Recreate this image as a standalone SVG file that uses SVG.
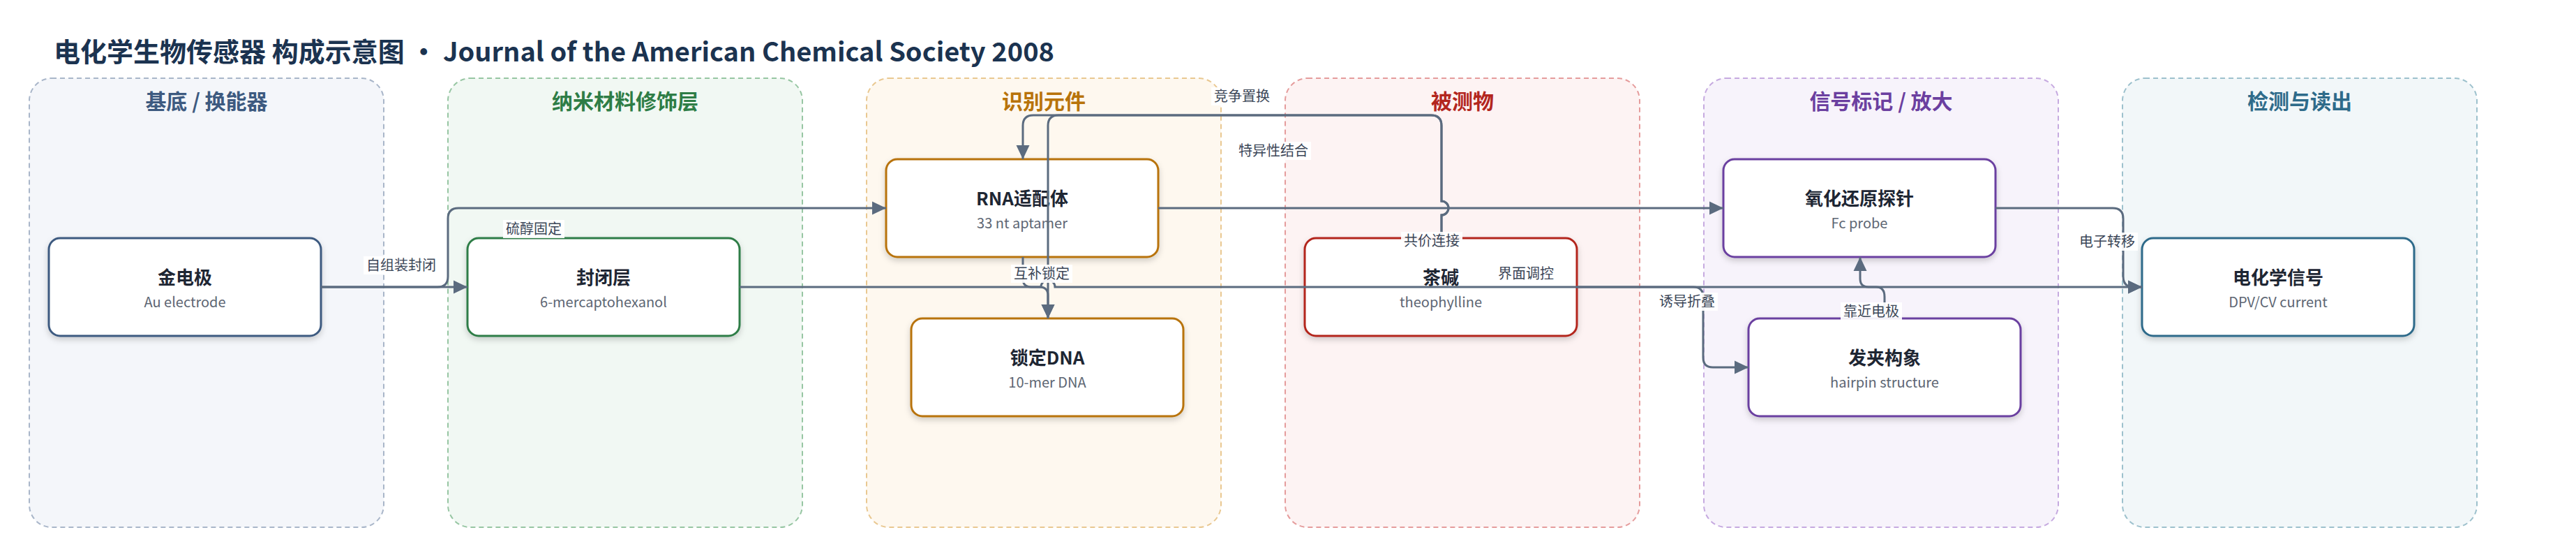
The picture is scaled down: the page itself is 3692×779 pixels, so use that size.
<svg xmlns="http://www.w3.org/2000/svg" width="3692" height="779" viewBox="0 0 3692 779">
<style>
text{font-family:"Noto Sans CJK SC","Noto Sans",sans-serif}
.title{font-size:38px;font-weight:700;fill:#1b3350}
.gl{font-size:30px;font-weight:700;text-anchor:middle}
.grp{stroke-width:2;stroke-dasharray:7 5}
.node{fill:#fff;stroke-width:3;filter:url(#sh)}
.nt{font-size:26px;font-weight:700;fill:#1e2633;text-anchor:middle}
.ns{font-size:20px;fill:#5d6673;text-anchor:middle}
.e{fill:none;stroke:#5b6b7f;stroke-width:3}
.lb{fill:#fff;fill-opacity:0.92}
.lt{font-size:20px;fill:#3b4657;text-anchor:middle}
</style>
<defs>
<filter id="sh" x="-10%" y="-10%" width="120%" height="140%">
<feDropShadow dx="0" dy="4" stdDeviation="4" flood-color="#000" flood-opacity="0.18"/>
</filter>
<marker id="ar" markerUnits="userSpaceOnUse" markerWidth="20" markerHeight="20" refX="20" refY="10" orient="auto" viewBox="0 0 20 20">
<path d="M0,0.5 L20,10 L0,19.5 Z" fill="#5b6b7f"/>
</marker>
</defs>
<rect width="3692" height="779" fill="#fff"/>
<text class="title" x="77" y="88">电化学生物传感器 构成示意图 • Journal of the American Chemical Society 2008</text>

<g id="group-substrate">
<rect class="grp" x="42" y="112" width="508" height="643" rx="32" fill="#f4f6fa" stroke="#a9b6c9"/>
<text class="gl" x="296" y="156" fill="#3d5a80">基底 / 换能器</text>
</g>
<g id="group-nano">
<rect class="grp" x="642" y="112" width="508" height="643" rx="32" fill="#f1f8f3" stroke="#97c6a3"/>
<text class="gl" x="896" y="156" fill="#2e7d46">纳米材料修饰层</text>
</g>
<g id="group-recog">
<rect class="grp" x="1242" y="112" width="508" height="643" rx="32" fill="#fef8ef" stroke="#e9c891"/>
<text class="gl" x="1496" y="156" fill="#b8730a">识别元件</text>
</g>
<g id="group-analyte">
<rect class="grp" x="1842" y="112" width="508" height="643" rx="32" fill="#fdf3f3" stroke="#e59c9c"/>
<text class="gl" x="2096" y="156" fill="#b3261e">被测物</text>
</g>
<g id="group-signal">
<rect class="grp" x="2442" y="112" width="508" height="643" rx="32" fill="#f7f3fb" stroke="#c6aae0"/>
<text class="gl" x="2696" y="156" fill="#6b3fa0">信号标记 / 放大</text>
</g>
<g id="group-readout">
<rect class="grp" x="3042" y="112" width="508" height="643" rx="32" fill="#f2f7f9" stroke="#9dc1cd"/>
<text class="gl" x="3296" y="156" fill="#2e6b8a">检测与读出</text>
</g>

<g id="node-au">
<rect class="node" x="70" y="341" width="390" height="140" rx="16" stroke="#3d5a80"/>
<text class="nt" x="265" y="407">金电极</text>
<text class="ns" x="265" y="440">Au electrode</text>
</g>
<g id="node-mch">
<rect class="node" x="670" y="341" width="390" height="140" rx="16" stroke="#2e7d46"/>
<text class="nt" x="865" y="407">封闭层</text>
<text class="ns" x="865" y="440">6-mercaptohexanol</text>
</g>
<g id="node-aptamer">
<rect class="node" x="1270" y="228" width="390" height="140" rx="16" stroke="#b8730a"/>
<text class="nt" x="1465" y="294">RNA适配体</text>
<text class="ns" x="1465" y="327">33 nt aptamer</text>
</g>
<g id="node-lockdna">
<rect class="node" x="1306" y="456" width="390" height="140" rx="16" stroke="#b8730a"/>
<text class="nt" x="1501" y="522">锁定DNA</text>
<text class="ns" x="1501" y="555">10-mer DNA</text>
</g>
<g id="node-theophylline">
<rect class="node" x="1870" y="341" width="390" height="140" rx="16" stroke="#b3261e"/>
<text class="nt" x="2065" y="407">茶碱</text>
<text class="ns" x="2065" y="440">theophylline</text>
</g>
<g id="node-fc">
<rect class="node" x="2470" y="228" width="390" height="140" rx="16" stroke="#6b3fa0"/>
<text class="nt" x="2665" y="294">氧化还原探针</text>
<text class="ns" x="2665" y="327">Fc probe</text>
</g>
<g id="node-hairpin">
<rect class="node" x="2506" y="456" width="390" height="140" rx="16" stroke="#6b3fa0"/>
<text class="nt" x="2701" y="522">发夹构象</text>
<text class="ns" x="2701" y="555">hairpin structure</text>
</g>
<g id="node-signal">
<rect class="node" x="3070" y="341" width="390" height="140" rx="16" stroke="#2e6b8a"/>
<text class="nt" x="3265" y="407">电化学信号</text>
<text class="ns" x="3265" y="440">DPV/CV current</text>
</g>

<g id="connectors">
<path class="e" marker-end="url(#ar)" d="M460,411 H670"/>
<path class="e" marker-end="url(#ar)" d="M460,411 H627 Q642,411 642,396 V313 Q642,298 657,298 H1270"/>
<path class="e" marker-end="url(#ar)" d="M1466,368 V399 Q1466,411 1478,411 H1490 Q1502,411 1502,423 V456"/>
<path class="e" marker-end="url(#ar)" d="M2066,341 V308 A10,10 0 0 0 2066,288 V180 Q2066,165 2051,165 H1481 Q1466,165 1466,180 V228"/>
<path class="e" marker-end="url(#ar)" d="M2066,341 V308 A10,10 0 0 0 2066,288 V180 Q2066,165 2051,165 H1517 Q1502,165 1502,180 V456"/>
<path class="e" marker-end="url(#ar)" d="M1660,298 H2470"/>
<path class="e" marker-end="url(#ar)" d="M1060,411 H1492 A10,10 0 0 1 1512,411 H3070"/>
<path class="e" marker-end="url(#ar)" d="M2260,411 H2427 Q2441,411 2441,425 V512 Q2441,526 2455,526 H2506"/>
<path class="e" marker-end="url(#ar)" d="M2701,456 V425 Q2701,411 2689,411 H2678 Q2666,411 2666,399 V368"/>
<path class="e" marker-end="url(#ar)" d="M2860,298 H3028 Q3043,298 3043,313 V396 Q3043,411 3058,411 H3070"/>

<rect class="lb" x="521" y="367" width="108" height="26"/>
<text class="lt" x="575" y="387">自组装封闭</text>
<rect class="lb" x="721" y="315" width="88" height="26"/>
<text class="lt" x="765" y="335">硫醇固定</text>
<rect class="lb" x="1449" y="379" width="88" height="26"/>
<text class="lt" x="1493" y="399">互补锁定</text>
<rect class="lb" x="1736" y="125" width="88" height="26"/>
<text class="lt" x="1780" y="145">竞争置换</text>
<rect class="lb" x="1771" y="203" width="108" height="26"/>
<text class="lt" x="1825" y="223">特异性结合</text>
<rect class="lb" x="2008" y="332" width="88" height="26"/>
<text class="lt" x="2052" y="352">共价连接</text>
<rect class="lb" x="2143" y="379" width="88" height="26"/>
<text class="lt" x="2187" y="399">界面调控</text>
<rect class="lb" x="2374" y="419" width="88" height="26"/>
<text class="lt" x="2418" y="439">诱导折叠</text>
<rect class="lb" x="2638" y="433" width="88" height="26"/>
<text class="lt" x="2682" y="453">靠近电极</text>
<rect class="lb" x="2976" y="333" width="88" height="26"/>
<text class="lt" x="3020" y="353">电子转移</text>
</g>
</svg>
